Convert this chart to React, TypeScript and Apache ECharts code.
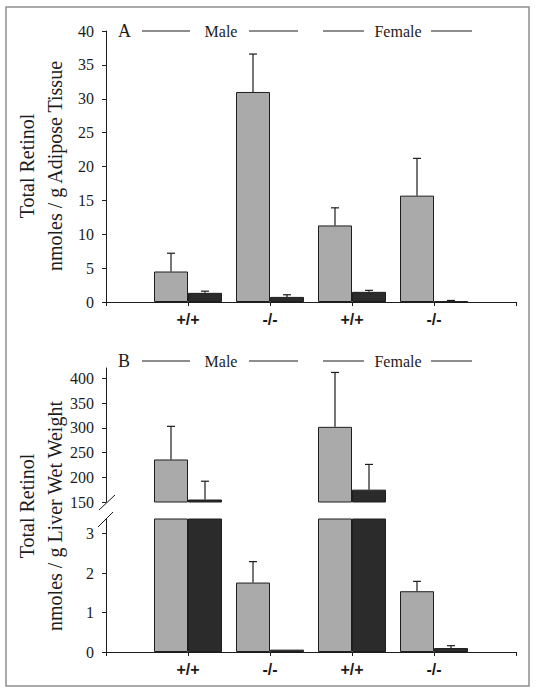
import React, { useEffect, useRef } from "react";
import * as echarts from "echarts";

// ---------- data ----------
const categories = ["", "+/+", "-/-", "+/+", "-/-", ""];

// Panel A: adipose tissue (nmoles / g)
const adiposeGray = [null, 4.5, 31.0, 11.3, 15.7, null];
const adiposeGrayErr = [null, 2.7, 5.6, 2.6, 5.5, null];
const adiposeBlack = [null, 1.35, 0.75, 1.5, 0.1, null];
const adiposeBlackErr = [null, 0.25, 0.32, 0.22, 0.13, null];

// Panel B: liver (nmoles / g wet weight)
const liverGray = [null, 236, 1.76, 302, 1.54, null];
const liverGrayErr = [null, 67, 0.53, 110, 0.25, null];
const liverBlack = [null, 155, 0.06, 175, 0.1, null];
const liverBlackErr = [null, 37, 0, 51, 0.06, null];

const ticksA = [0, 5, 10, 15, 20, 25, 30, 35, 40];
const ticksBUpper = [150, 200, 250, 300, 350, 400];
const ticksBLower = [0, 1, 2, 3];

// ---------- styles ----------
const SERIF = "'Liberation Serif', 'Times New Roman', serif";
const SANS = "'Liberation Sans', Arial, sans-serif";
const GRAY = "#aaaaaa";
const BLACK = "#2b2b2b";
const INK = "#1c1c1c";
const BAR_W = 34;

function errData(vals: (number | null)[], errs: (number | null)[], lo: number, hi: number) {
  const out: number[][] = [];
  vals.forEach((v, i) => {
    const e = errs[i];
    if (v == null || e == null || e <= 0) return;
    if (v < lo || v > hi) return;
    out.push([i, v, e]);
  });
  return out;
}

function errSeries(data: number[][], axisIdx: number, offset: number) {
  return {
    type: "custom",
    xAxisIndex: axisIdx,
    yAxisIndex: axisIdx,
    z: 5,
    encode: { x: 0, y: 1 },
    data,
    renderItem: (_p: any, api: any) => {
      const i = api.value(0);
      const v = api.value(1);
      const e = api.value(2);
      const base = api.coord([i, v]);
      const top = api.coord([i, v + e]);
      const cx = base[0] + offset;
      return {
        type: "group",
        children: [
          { type: "line", shape: { x1: cx, y1: base[1], x2: cx, y2: top[1] }, style: { stroke: INK, lineWidth: 1.2 } },
          { type: "line", shape: { x1: cx - 4, y1: top[1], x2: cx + 4, y2: top[1] }, style: { stroke: INK, lineWidth: 1.2 } },
        ],
      };
    },
  };
}

function barSeries(data: (number | null)[], color: string, axisIdx: number) {
  return {
    type: "bar",
    xAxisIndex: axisIdx,
    yAxisIndex: axisIdx,
    data,
    barWidth: BAR_W,
    barGap: "0%",
    clip: true,
    itemStyle: { color, borderColor: "#1e1e1e", borderWidth: 1 },
  };
}

function xAxisDef(gridIndex: number, show: boolean) {
  return {
    type: "category",
    gridIndex,
    data: categories,
    boundaryGap: false,
    show,
    axisLine: { lineStyle: { color: INK, width: 1 } },
    axisTick: { show: true, length: 4, lineStyle: { color: INK } },
    axisLabel: {
      color: INK,
      fontFamily: SANS,
      fontWeight: "bold",
      fontSize: 16,
      margin: 9,
      interval: 0,
    },
    splitLine: { show: false },
  };
}

function yAxisDef(gridIndex: number, min: number, max: number, ticks: number[]) {
  return {
    type: "value",
    gridIndex,
    min,
    max,
    axisLine: { show: true, onZero: false, lineStyle: { color: INK, width: 1 } },
    axisTick: { show: true, length: 4, lineStyle: { color: INK }, customValues: ticks },
    axisLabel: { color: INK, fontFamily: SERIF, fontSize: 16, margin: 12, customValues: ticks },
    splitLine: { show: false },
  };
}

function groupHeader(y: number, letter: string) {
  const line = (x1: number, x2: number) => ({
    type: "line",
    shape: { x1, y1: y, x2, y2: y },
    style: { stroke: INK, lineWidth: 1.2 },
  });
  const txt = (x: number, t: string, size: number, align: string) => ({
    type: "text",
    x,
    y,
    style: { text: t, fontFamily: SERIF, fontSize: size, fill: INK, align, verticalAlign: "middle" },
  });
  return [
    txt(118, letter, 18, "left"),
    line(142, 190),
    txt(221, "Male", 16, "center"),
    line(249, 298),
    line(323, 364),
    txt(398, "Female", 16, "center"),
    line(431, 472),
  ];
}

function yTitle(x: number, y: number, t: string) {
  return {
    type: "text",
    x,
    y,
    rotation: Math.PI / 2,
    style: { text: t, fontFamily: SERIF, fontSize: 20, fill: INK, align: "center", verticalAlign: "middle" },
  };
}

export default function App() {
  const ref = useRef<HTMLDivElement>(null);
  useEffect(() => {
    document.body.style.margin = "0";
    const chart = echarts.init(ref.current!, null, { renderer: "svg" });
    const option: any = {
      animation: false,
      backgroundColor: "#ffffff",
      textStyle: { fontFamily: SERIF },
      grid: [
        { left: 106, top: 31, width: 410, height: 271 },
        { left: 106, top: 368, width: 410, height: 134 },
        { left: 106, top: 519, width: 410, height: 133 },
      ],
      xAxis: [xAxisDef(0, true), xAxisDef(1, false), xAxisDef(2, true)],
      yAxis: [
        yAxisDef(0, 0, 40, ticksA),
        yAxisDef(1, 150, 421, ticksBUpper),
        yAxisDef(2, 0, 3.37, ticksBLower),
      ],
      series: [
        barSeries(adiposeGray, GRAY, 0),
        barSeries(adiposeBlack, BLACK, 0),
        errSeries(errData(adiposeGray, adiposeGrayErr, 0, 40), 0, -BAR_W / 2),
        errSeries(errData(adiposeBlack, adiposeBlackErr, 0, 40), 0, BAR_W / 2),

        barSeries(liverGray, GRAY, 1),
        barSeries(liverBlack, BLACK, 1),
        errSeries(errData(liverGray, liverGrayErr, 150, 421), 1, -BAR_W / 2),
        errSeries(errData(liverBlack, liverBlackErr, 150, 421), 1, BAR_W / 2),

        barSeries(liverGray, GRAY, 2),
        barSeries(liverBlack, BLACK, 2),
        errSeries(errData(liverGray, liverGrayErr, 0, 3.37), 2, -BAR_W / 2),
        errSeries(errData(liverBlack, liverBlackErr, 0, 3.37), 2, BAR_W / 2),
      ],
      graphic: [
        {
          type: "rect",
          shape: { x: 6, y: 7, width: 523, height: 679 },
          style: { fill: "none", stroke: "#8f8f8f", lineWidth: 1.5 },
          silent: true,
        },
        ...groupHeader(31, "A"),
        ...groupHeader(361, "B"),
        yTitle(27, 166, "Total Retinol"),
        yTitle(55, 166, "nmoles / g Adipose Tissue"),
        yTitle(27, 506, "Total Retinol"),
        yTitle(55, 516, "nmoles / g Liver Wet Weight"),
        { type: "line", shape: { x1: 99, y1: 510, x2: 115, y2: 495 }, style: { stroke: INK, lineWidth: 1 } },
        { type: "line", shape: { x1: 98, y1: 527, x2: 113, y2: 512 }, style: { stroke: INK, lineWidth: 1 } },
      ],
    };
    chart.setOption(option);
    return () => chart.dispose();
  }, []);
  return <div ref={ref} style={{ width: 536, height: 695 }} />;
}
